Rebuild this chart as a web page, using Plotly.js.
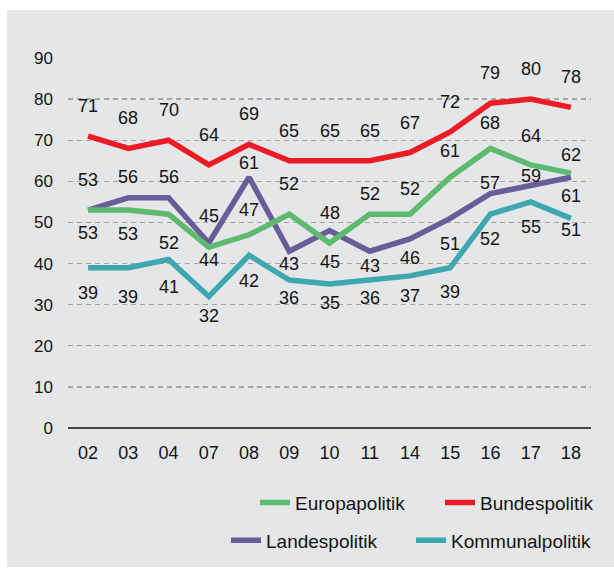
<!DOCTYPE html>
<html>
<head>
<meta charset="utf-8">
<script src="https://cdn.plot.ly/plotly-3.0.1.min.js"></script>
<style>html,body{margin:0;padding:0;background:#fff;}#chart{width:614px;height:568px;}</style>
</head>
<body>
<div id="chart"></div>
<script>
// ---- data ----
const years = ["02","03","04","07","08","09","10","11","14","15","16","17","18"];
const europapolitik   = [53,53,52,44,47,52,45,52,52,61,68,64,62];
const bundespolitik   = [71,68,70,64,69,65,65,65,67,72,79,80,78];
const landespolitik   = [53,56,56,45,61,43,48,43,46,51,57,59,61];
const kommunalpolitik = [39,39,41,32,42,36,35,36,37,39,52,55,51];
const yTicks = [0,10,20,30,40,50,60,70,80,90];

// ---- label placement (pixel offsets, + = below the line) ----
const offEuropa   = [23,24,29,13,-25,-30,19,-20,-25,-26,-25,-29,-18];
const offBundes   = [-30,-30,-30,-30,-30,-30,-30,-30,-30,-30,-30,-30,-30];
const offLandes   = [-30,-21,-21,-27,-14,13,-18,15,19,26,-11,-9,19];
const offKommunal = [25,29,28,20,26,18,19,18,20,24,25,25,12];

const W = 614, H = 568;
const M = {l:68, r:23, t:58, b:140};
const PW = W - M.l - M.r, PH = H - M.t - M.b;
const px = x => (x - M.l) / PW;
const py = y => (H - M.b - y) / PH;

const FONT = "Liberation Sans, Arial, Helvetica, sans-serif";
const TXT = "#141414";

const series = [
  {name:"Landespolitik",   y:landespolitik,   color:"#6a5b99", off:offLandes,   legend:"legend2", rank:1},
  {name:"Kommunalpolitik", y:kommunalpolitik, color:"#3ea7b0", off:offKommunal, legend:"legend2", rank:2},
  {name:"Europapolitik",   y:europapolitik,   color:"#5dba6f", off:offEuropa,   legend:"legend",  rank:1},
  {name:"Bundespolitik",   y:bundespolitik,   color:"#ed1c24", off:offBundes,   legend:"legend",  rank:2}
];

const traces = series.map(s => ({
  type:"scatter", mode:"lines", x:years, y:s.y, name:s.name,
  line:{color:s.color, width:5.5},
  legend:s.legend, legendrank:s.rank, hoverinfo:"skip"
}));

const annotations = [];
series.forEach(s => {
  s.y.forEach((v,i) => {
    annotations.push({
      x:i, y:v, xref:"x", yref:"y", text:String(v), showarrow:false,
      yshift:-s.off[i], font:{family:FONT, size:18, color:TXT},
      xanchor:"center", yanchor:"middle"
    });
  });
});

const layout = {
  width:W, height:H,
  margin:{l:M.l, r:M.r, t:M.t, b:M.b, pad:0, autoexpand:false},
  paper_bgcolor:"#ffffff",
  plot_bgcolor:"rgba(0,0,0,0)",
  font:{family:FONT, color:TXT},
  showlegend:true,
  shapes:[{
    type:"rect", xref:"paper", yref:"paper", layer:"below",
    x0:px(7), x1:px(W+5), y0:py(567), y1:py(10),
    fillcolor:"#e5e6e8", line:{width:0}
  }],
  xaxis:{
    type:"category", categoryorder:"array", categoryarray:years,
    range:[-0.5, 12.5], showgrid:false, zeroline:false, showline:false,
    ticks:"", ticklabelstandoff:12,
    tickfont:{family:FONT, size:18, color:TXT}, fixedrange:true
  },
  yaxis:{
    range:[0,90], tickmode:"array", tickvals:yTicks, ticktext:yTicks.map(String),
    showgrid:true, gridcolor:"#a5a5a7", gridwidth:1.3, griddash:"5px,4px",
    zeroline:true, zerolinecolor:"#47474a", zerolinewidth:2,
    showline:false, ticks:"", ticklabelstandoff:14,
    tickfont:{family:FONT, size:17, color:TXT}, fixedrange:true
  },
  legend:{
    orientation:"h", x:px(255), xanchor:"left", y:py(502.7), yanchor:"middle",
    bgcolor:"rgba(0,0,0,0)", borderwidth:0, traceorder:"normal",
    font:{family:FONT, size:19, color:TXT}, entrywidth:140, entrywidthmode:"pixels"
  },
  legend2:{
    orientation:"h", x:px(226), xanchor:"left", y:py(540.5), yanchor:"middle",
    bgcolor:"rgba(0,0,0,0)", borderwidth:0, traceorder:"normal",
    font:{family:FONT, size:19, color:TXT}, entrywidth:140, entrywidthmode:"pixels"
  },
  annotations:annotations
};

Plotly.newPlot("chart", traces, layout, {displayModeBar:false, staticPlot:true});
</script>
</body>
</html>
